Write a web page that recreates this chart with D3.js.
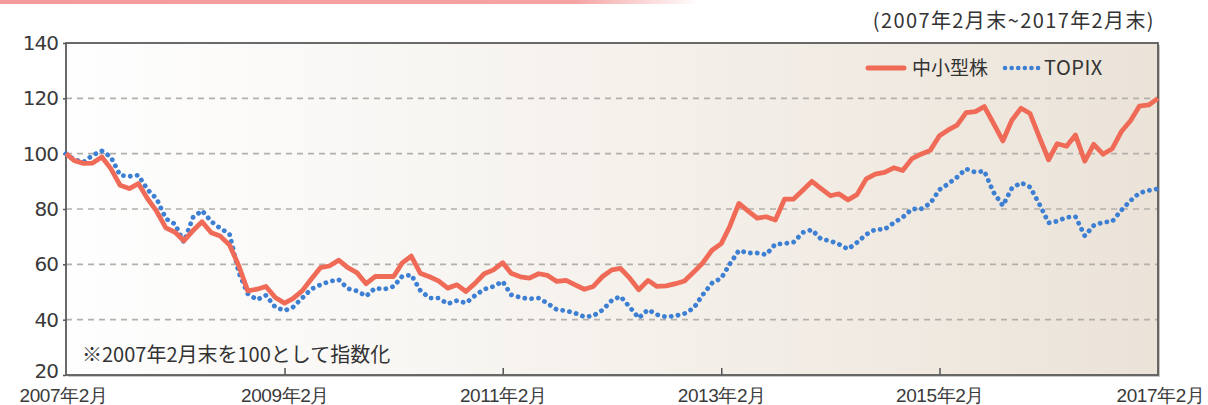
<!DOCTYPE html>
<html>
<head>
<meta charset="utf-8">
<script src="https://cdn.jsdelivr.net/npm/d3@7"></script>
<style>
  html, body { margin: 0; padding: 0; background: #fff; }
  svg { display: block; font-family: "Noto Sans CJK JP", "Noto Sans", sans-serif; }
</style>
</head>
<body>
<div id="chart"></div>
<script>
// monthly index, 2007/02 end = 100
const smallMid = [
  100, 97.5, 96.5, 96.6, 98.8, 94.6, 88.6, 87.4, 89.2, 83.7, 79.2, 73.2, 71.6,
  68.5, 72.2, 75.4, 71.4, 70.2, 67, 59.5, 50.4, 51, 52, 48, 46,
  47.6, 50.4, 54.6, 58.8, 59.4, 61.5, 58.8, 57, 53, 55.6, 55.6, 55.6,
  60.4, 63, 56.8, 55.5, 54, 51.4, 52.6, 50.2, 53.2, 56.6, 58, 60.6,
  56.8, 55.5, 55, 56.6, 56, 53.8, 54.2, 52.6, 51, 52, 55.6, 58,
  58.5, 55, 50.8, 54.2, 52, 52.2, 53, 54, 57.2, 60.5, 65.1, 67.5,
  73.6, 82, 79.3, 76.7, 77.2, 76, 83.6, 83.6, 86.8, 90, 87.4, 84.8,
  85.5, 83.3, 85.2, 90.9, 92.6, 93.2, 94.9, 93.9, 98.2, 99.8, 101.2, 106.5,
  108.5, 110.3, 114.8, 115.2, 117, 110.9, 104.6, 112.1, 116.4, 114.5, 106, 97.8,
  103.6, 102.7, 106.7, 97.3, 103.4, 99.8, 101.8, 107.9, 111.9, 117.2, 117.6, 120
]
const topix = [
  100, 97.8, 97, 99.4, 101, 98.8, 92.2, 91.8, 92.2, 87, 83.7, 76.5, 74.5,
  68, 77, 79.4, 75.5, 73, 71, 57, 49.4, 47.2, 48.8, 44.5, 43.3,
  44.5, 47.8, 51, 52.6, 53.8, 54.5, 51.2, 50.4, 48.5, 51.4, 51, 52,
  55.6, 56.2, 50.6, 47.8, 47.8, 45.7, 46.9, 46, 48.8, 51, 52, 53.8,
  49, 48, 47.5, 47.8, 45.9, 43.6, 43.2, 42.4, 41, 41.4, 43.5, 47,
  48.4, 44.5, 40.6, 43.6, 41.8, 41, 41.4, 42.2, 44.2, 49, 53.2, 55,
  60, 65, 64.1, 64.1, 63.5, 67.3, 67.5, 68, 71.5, 72.5, 69.1, 68.5,
  67.3, 65.5, 67.9, 70.8, 72.6, 72.6, 75, 77, 80, 80, 82, 87,
  89, 91.5, 94.5, 93.3, 93.7, 86, 81.2, 87.5, 89.5, 87.9, 81.8, 75,
  75.6, 77, 77.2, 70.3, 74, 75.2, 75.5, 79.5, 83, 85.8, 86.7, 87.3
]
const seriesNames = ['中小型株', 'TOPIX']
const yTicks = [20, 40, 60, 80, 100, 120, 140]
const xTickYears = [2007, 2009, 2011, 2013, 2015, 2017]
const xTickLabels = ['2007年2月', '2009年2月', '2011年2月', '2013年2月', '2015年2月', '2017年2月']
const periodNote = '(2007年2月末~2017年2月末)'
const footNote = '※2007年2月末を100として指数化'

const W = 1208, H = 405
const M = { left: 66, right: 50, top: 43, bottom: 30 }
const RED = '#ef6b57', BLUE = '#3d7fd2'

const months = d3.range(smallMid.length).map(i => d3.timeMonth.offset(new Date(2007, 1, 1), i))

const x = d3.scaleTime().domain([months[0], months[months.length - 1]]).range([M.left, W - M.right])
const y = d3.scaleLinear().domain([20, 140]).range([H - M.bottom, M.top])

const svg = d3.select('#chart').append('svg').attr('width', W).attr('height', H)
const defs = svg.append('defs')

// top pink strip
const strip = defs.append('linearGradient').attr('id', 'strip')
strip.append('stop').attr('offset', '0%').attr('stop-color', '#f49a9a')
strip.append('stop').attr('offset', '82%').attr('stop-color', '#f6a3a3')
strip.append('stop').attr('offset', '100%').attr('stop-color', '#fff')
svg.append('rect').attr('x', 0).attr('y', 0).attr('width', 700).attr('height', 4).attr('fill', 'url(#strip)')

// plot background
const bg = defs.append('linearGradient').attr('id', 'bg')
bg.append('stop').attr('offset', '0%').attr('stop-color', '#fefefe')
bg.append('stop').attr('offset', '30%').attr('stop-color', '#f9f7f4')
bg.append('stop').attr('offset', '100%').attr('stop-color', '#ebe3d8')

const x0 = x.range()[0], x1 = x.range()[1]
const yTop = y(140), yBot = y(20)

// soft shadow on right/bottom
svg.append('rect').attr('x', x0 + 2).attr('y', yTop + 2).attr('width', x1 - x0).attr('height', yBot - yTop)
  .attr('fill', '#c9c5c0')
svg.append('rect').attr('x', x0).attr('y', yTop).attr('width', x1 - x0).attr('height', yBot - yTop)
  .attr('fill', 'url(#bg)')

// grid
yTicks.filter(t => t > 20 && t < 140).forEach(t => {
  svg.append('line')
    .attr('x1', x0).attr('x2', x1).attr('y1', y(t)).attr('y2', y(t))
    .attr('stroke', '#b3b0ab').attr('stroke-width', 1.6).attr('stroke-dasharray', '6,5')
})

// y axis
const yAxis = svg.append('g').attr('transform', `translate(${x0},0)`)
  .call(d3.axisLeft(y).tickValues(yTicks).tickSize(3).tickPadding(5))
yAxis.select('.domain').remove()
yAxis.selectAll('line').attr('stroke', '#555').attr('stroke-width', 1.5)
yAxis.selectAll('text').attr('font-size', 20).attr('fill', '#3a3a3a')
  .attr('font-family', '"DejaVu Sans", sans-serif').attr('letter-spacing', -1)
// lowest label sits just above the date labels
yAxis.selectAll('.tick').filter(d => d === 20).select('text').attr('dy', '0.12em')

// x axis: ticks point inward
const xTickDates = xTickYears.map(yr => new Date(yr, 1, 1))
const xAxis = svg.append('g').attr('transform', `translate(0,${yBot})`)
  .call(d3.axisBottom(x).tickValues(xTickDates).tickSizeInner(-7).tickSizeOuter(0)
    .tickFormat((d, i) => xTickLabels[i]).tickPadding(14))
xAxis.select('.domain').remove()
xAxis.selectAll('line').attr('stroke', '#555').attr('stroke-width', 1.5)
xAxis.selectAll('text').attr('font-size', 19).attr('fill', '#3a3a3a').attr('letter-spacing', -0.4)
xAxis.selectAll('.tick').filter((d, i) => i === 0 || i === xTickDates.length - 1).select('line').remove()
xAxis.selectAll('.tick').filter((d, i) => i === 0).select('text').attr('dx', -3)
xAxis.selectAll('.tick').filter((d, i) => i === xTickDates.length - 1).select('text').attr('dx', 2)

// frame
svg.append('rect').attr('x', x0).attr('y', yTop).attr('width', x1 - x0).attr('height', yBot - yTop)
  .attr('fill', 'none').attr('stroke', '#5a5a5a').attr('stroke-width', 1.8)

// lines
const line = d3.line().x((d, i) => x(months[i])).y(d => y(d))
svg.append('path').datum(topix).attr('d', line)
  .attr('fill', 'none').attr('stroke', BLUE).attr('stroke-width', 4.8)
  .attr('stroke-linecap', 'round').attr('stroke-linejoin', 'round').attr('stroke-dasharray', '0.1,6.8')
svg.append('path').datum(smallMid).attr('d', line)
  .attr('fill', 'none').attr('stroke', RED).attr('stroke-width', 4.8)
  .attr('stroke-linejoin', 'round')

// legend
const lg = svg.append('g').attr('transform', 'translate(868,68)')
lg.append('line').attr('x1', 0).attr('x2', 36).attr('stroke', RED).attr('stroke-width', 5).attr('stroke-linecap', 'round')
lg.append('text').attr('x', 44).attr('y', 7).attr('font-size', 19).attr('fill', '#333').text(seriesNames[0])
lg.append('line').attr('x1', 137).attr('x2', 171).attr('stroke', BLUE).attr('stroke-width', 4.5)
  .attr('stroke-linecap', 'round').attr('stroke-dasharray', '0.1,6.5')
lg.append('text').attr('x', 176).attr('y', 7).attr('font-size', 20).attr('letter-spacing', 0.5)
  .attr('fill', '#333').text(seriesNames[1])

// captions
svg.append('text').attr('x', 1155).attr('y', 28).attr('text-anchor', 'end')
  .attr('font-size', 20).attr('letter-spacing', 1.4).attr('fill', '#333').text(periodNote)
svg.append('text').attr('x', 82).attr('y', 362)
  .attr('font-size', 20).attr('fill', '#333').text(footNote)
</script>
</body>
</html>
